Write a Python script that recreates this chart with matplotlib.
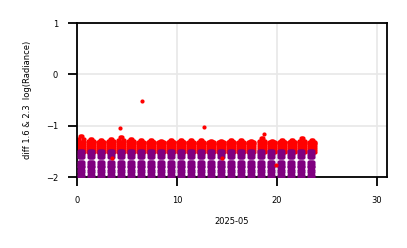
import numpy as np
import matplotlib
matplotlib.use("Agg")
import matplotlib.pyplot as plt

# ---- data ----
days = list(range(24))                      # day-of-month index of each cluster
red_offsets = [0.15, 0.25, 0.35, 0.45, 0.55, 0.65, 0.75]   # fraction of day
# top of the red cluster for each day
red_top = [-1.20, -1.25, -1.27, -1.25, -1.22, -1.25, -1.28, -1.27, -1.29, -1.27,
           -1.27, -1.28, -1.28, -1.29, -1.30, -1.27, -1.28, -1.29, -1.24, -1.29,
           -1.27, -1.27, -1.24, -1.28]
red_levels = [-1.31, -1.35, -1.39, -1.43, -1.47, -1.51]
purple_upper = [-1.49, -1.53, -1.57, -1.61]
purple_mid = [-1.70, -1.74, -1.78, -1.81]
purple_low = [-1.87, -1.91, -1.95, -1.99]
purple_upper_offsets = [0.18, 0.28, 0.42, 0.52, 0.60]
purple_mid_offsets = [0.18, 0.28, 0.40, 0.50, 0.62]
purple_low_offsets = [0.20, 0.30, 0.44, 0.54, 0.62]
red_outlier_x = [4.3, 6.5, 12.7, 18.7, 19.9, 3.5, 14.5]
red_outlier_y = [-1.05, -0.52, -1.03, -1.17, -1.77, -1.62, -1.62]

# ---- assemble points ----
rx, ry, px, py = [], [], [], []
for d, top in zip(days, red_top):
    for i, t in enumerate(red_offsets):
        peak = top if 2 <= i <= 4 else top - 0.05
        for v in [peak] + red_levels:
            rx.append(d + t); ry.append(v)
    for offs, levels in ((purple_upper_offsets, purple_upper),
                         (purple_mid_offsets, purple_mid),
                         (purple_low_offsets, purple_low)):
        for t in offs:
            for v in levels:
                px.append(d + t); py.append(v)

fig = plt.figure(figsize=(4.07, 2.48), dpi=100)
ax = fig.add_axes([0.189, 0.286, 0.762, 0.621])

ax.grid(True, color="#e8e8e8", linewidth=1.2, zorder=0)
ax.scatter(rx, ry, s=9, color="red", linewidths=0, zorder=2)
ax.scatter(px, py, s=9, color="purple", linewidths=0, zorder=3)
ax.scatter(red_outlier_x, red_outlier_y, s=9, color="red", linewidths=0, zorder=4)

ax.set_xlim(0, 31)
ax.set_ylim(-2, 1)
ax.set_xticks([0, 10, 20, 30])
ax.set_yticks([-2, -1, 0, 1])
ax.tick_params(axis="both", direction="out", length=6.5, width=1.3,
               labelsize=6, pad=7, color="black")
for s in ax.spines.values():
    s.set_linewidth(1.3)
ax.set_xlabel("2025-05", fontsize=6, labelpad=9)
ax.set_ylabel("diff 1.6 & 2.3  log(Radiance)", fontsize=6, labelpad=10)
ax.set_axisbelow(True)

fig.savefig("out.png", dpi=100)
